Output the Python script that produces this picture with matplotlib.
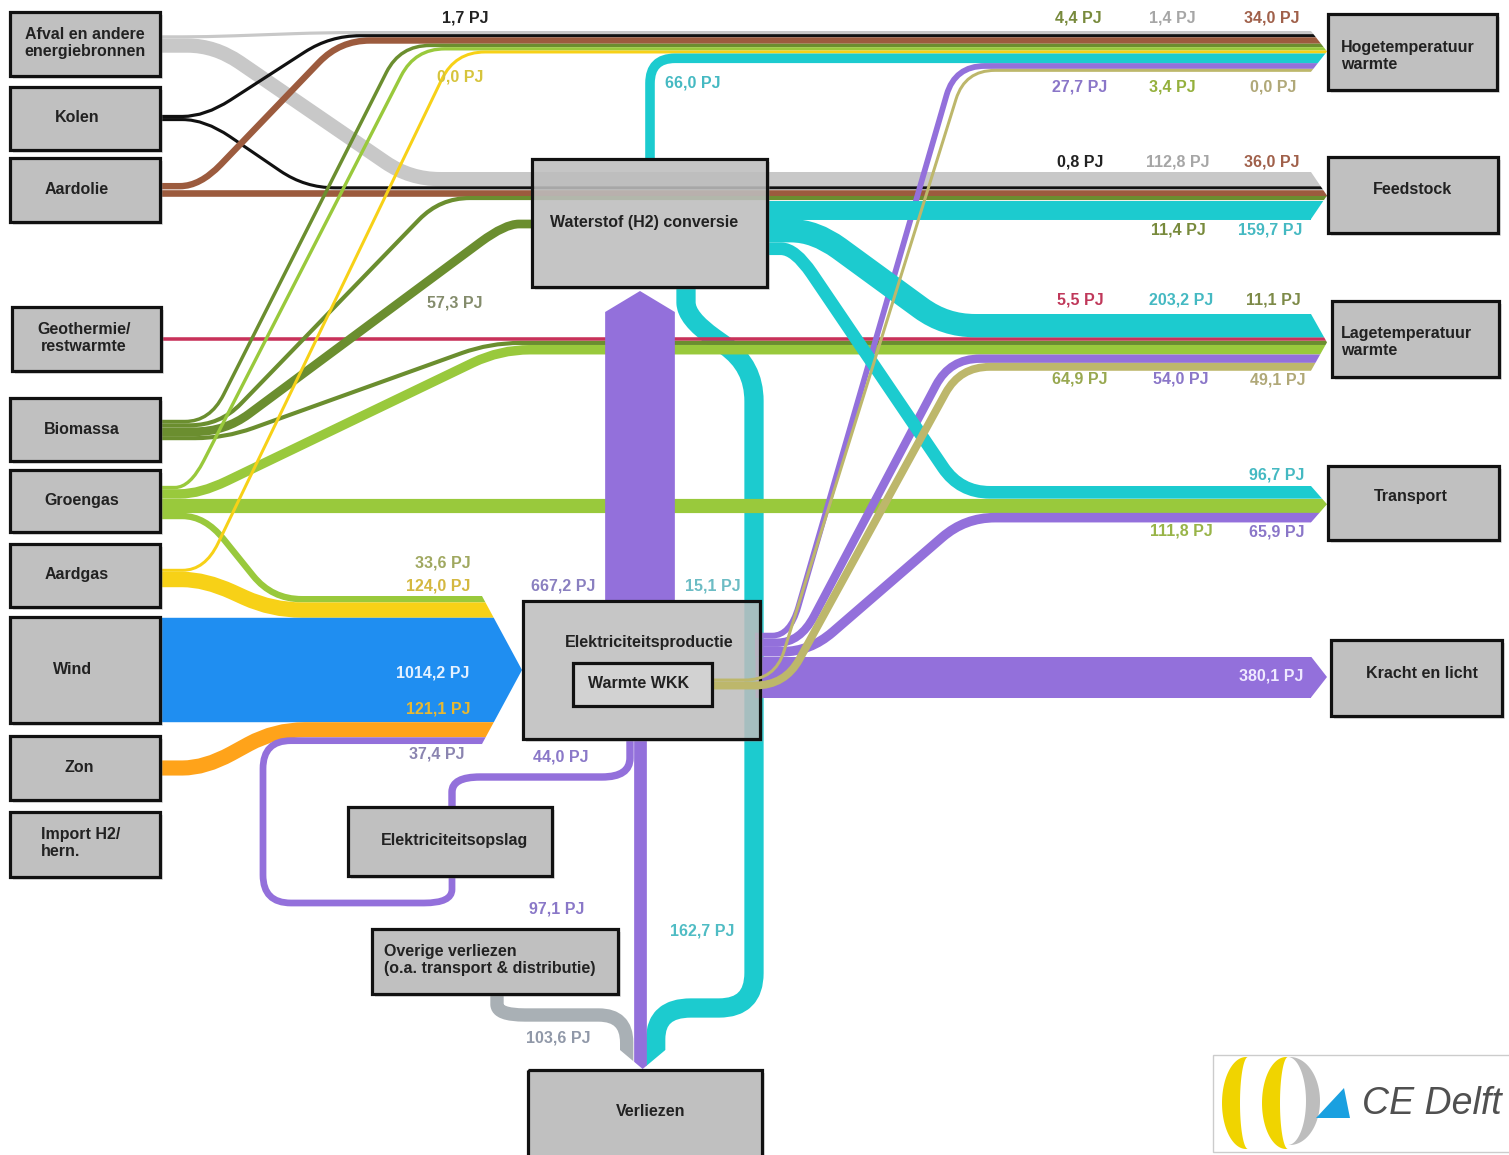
import numpy as np
import matplotlib.pyplot as plt
from matplotlib.path import Path
from matplotlib.patches import PathPatch, Rectangle, Polygon

# ---- data (PJ) ----
hoge_src = ['Afval', 'Kolen', 'Aardolie', 'Biomassa', 'Groengas', 'Aardgas', 'H2', 'Elek', 'WKK']
hoge_pj = [1.4, 1.7, 34.0, 4.4, 3.4, 0.0, 66.0, 27.7, 0.0]
feed_src = ['Afval', 'Kolen', 'Aardolie', 'Biomassa', 'H2']
feed_pj = [112.8, 0.8, 36.0, 11.4, 159.7]
lage_src = ['H2', 'Geothermie', 'Biomassa', 'Groengas', 'Elek', 'WKK']
lage_pj = [203.2, 5.5, 11.1, 64.9, 54.0, 49.1]
trans_src = ['H2', 'Groengas', 'Elek']
trans_pj = [96.7, 111.8, 65.9]
elek_src = ['Groengas', 'Aardgas', 'Wind', 'Zon', 'Opslag']
elek_pj = [33.6, 124.0, 1014.2, 121.1, 37.4]
verlies_src = ['Overige', 'Elek', 'H2']
verlies_pj = [103.6, 97.1, 162.7]
bio_h2_pj = 57.3
elek_h2_pj = 667.2
h2_elek_pj = 15.1
kracht_pj = 380.1
opslag_pj = 44.0

col = {'Afval': '#c8c8c8', 'Kolen': '#111111', 'Aardolie': '#9c5b3e',
       'Geothermie': '#c8325a', 'Biomassa': '#6b8e2f', 'Groengas': '#99c93c',
       'Aardgas': '#f7d117', 'Wind': '#1f8ef1', 'Zon': '#ffa31a',
       'Elek': '#9370db', 'WKK': '#bdb76b', 'H2': '#1ccbcf',
       'Overige': '#a9b0b5', 'Opslag': '#9370db'}

plt.rcParams['font.family'] = ['Liberation Sans', 'DejaVu Sans']

W, H, DPI = 1509, 1155, 100
fig = plt.figure(figsize=(W / DPI, H / DPI), dpi=DPI)
ax = fig.add_axes([0, 0, 1, 1])
ax.set_xlim(0, W)
ax.set_ylim(H, 0)
ax.axis('off')
PX = 72.0 / DPI


def wid(v):
    return 3 + 0.1 * v


def stack(top, vals):
    ws = [wid(v) for v in vals]
    cs = list(top + np.cumsum(ws) - np.array(ws) / 2)
    return cs, top + sum(ws)


def rounded(pts, r):
    verts, codes = [pts[0]], [Path.MOVETO]
    for i in range(1, len(pts) - 1):
        p = np.array(pts[i], float)
        da = np.array(pts[i - 1], float) - p
        db = np.array(pts[i + 1], float) - p
        la, lb = np.hypot(*da), np.hypot(*db)
        p1 = p + da / la * min(r, la / 2)
        p2 = p + db / lb * min(r, lb / 2)
        verts += [tuple(p1), tuple(p), tuple(p2)]
        codes += [Path.LINETO, Path.CURVE3, Path.CURVE3]
    verts.append(pts[-1])
    codes.append(Path.LINETO)
    return Path(verts, codes)


def ribbon(pts, v, color, r=30, clip=None, z=2):
    p = PathPatch(rounded(pts, r), fc='none', ec=color, lw=wid(v) * PX,
                  capstyle='butt', joinstyle='round', zorder=z)
    ax.add_patch(p)
    if clip is not None:
        p.set_clip_path(clip)


# destination stacks
XX = 1332
hc, hb = stack(31, hoge_pj)
fc_, fb = stack(172, feed_pj)
lc, lb = stack(314, lage_pj)
tc, tb = stack(486, trans_pj)
kw = wid(kracht_pj)
ky = 677
ec, eb = stack(596, elek_pj)
vc, vb = stack(620, verlies_pj)

XE, XT = 1311, 1327
rv = [(-10, -10), (XE, -10)]
for top, bot in [(31, hb), (172, fb), (314, lb), (486, tb), (ky - kw / 2, ky + kw / 2)]:
    rv += [(XE, top), (XT, (top + bot) / 2), (XE, bot)]
rv += [(XE, H + 10), (-10, H + 10)]
rclip = Polygon(rv, closed=True, transform=ax.transData)
eclip = Polygon([(-10, -10), (482, -10), (482, 596), (522, (596 + eb) / 2), (482, eb),
                 (482, H + 10), (-10, H + 10)], closed=True, transform=ax.transData)
vclip = Polygon([(-10, -10), (W + 10, -10), (W + 10, 1050), (vb, 1050),
                 ((620 + vb) / 2, 1069), (620, 1050), (-10, 1050)], closed=True,
                transform=ax.transData)


def src(center, vals):
    cs, _ = stack(center - sum(wid(v) for v in vals) / 2, vals)
    return cs


# H2 -> verliezen (under everything)
ribbon([(686, 287), (686, 318), (754, 366), (754, 1008), (vc[2], 1008), (vc[2], 1070)],
       verlies_pj[2], col['H2'], r=35, clip=vclip, z=1)

# Afval
s = src(44, [hoge_pj[0], feed_pj[0]])
ribbon([(160, s[0]), (205, s[0]), (325, hc[0]), (XX, hc[0])], hoge_pj[0], col['Afval'], clip=rclip)
ribbon([(160, s[1]), (215, s[1]), (410, fc_[0]), (XX, fc_[0])], feed_pj[0], col['Afval'], clip=rclip)
# Kolen
s = src(118, [hoge_pj[1], feed_pj[1]])
ribbon([(160, s[0]), (205, s[0]), (330, hc[1]), (XX, hc[1])], hoge_pj[1], col['Kolen'], clip=rclip)
ribbon([(160, s[1]), (205, s[1]), (305, fc_[1]), (XX, fc_[1])], feed_pj[1], col['Kolen'], clip=rclip)
# Aardolie
wa = wid(hoge_pj[2])
ya = fc_[2] - wid(feed_pj[2]) / 2 - wa / 2
ribbon([(160, ya), (200, ya), (340, hc[2]), (XX, hc[2])], hoge_pj[2], col['Aardolie'], clip=rclip)
ribbon([(160, fc_[2]), (XX, fc_[2])], feed_pj[2], col['Aardolie'], clip=rclip)
# Geothermie
ribbon([(161, lc[1]), (XX, lc[1])], lage_pj[1], col['Geothermie'], clip=rclip)
# Biomassa
s = src(430, [hoge_pj[3], feed_pj[3], bio_h2_pj, lage_pj[2]])
ribbon([(160, s[0]), (210, s[0]), (400, hc[3]), (XX, hc[3])], hoge_pj[3], col['Biomassa'], clip=rclip)
ribbon([(160, s[1]), (220, s[1]), (440, fc_[3]), (XX, fc_[3])], feed_pj[3], col['Biomassa'], clip=rclip)
ribbon([(160, s[2]), (225, s[2]), (505, 224), (533, 224)], bio_h2_pj, col['Biomassa'])
ribbon([(160, s[3]), (225, s[3]), (490, lc[2]), (XX, lc[2])], lage_pj[2], col['Biomassa'], clip=rclip)
# Groengas
gw = [wid(v) for v in [hoge_pj[4], lage_pj[3], trans_pj[1], elek_pj[0]]]
g0 = tc[1] - gw[2] / 2 - gw[1] - gw[0]
gs = list(g0 + np.cumsum(gw) - np.array(gw) / 2)
ribbon([(160, gs[0]), (190, gs[0]), (415, hc[4]), (XX, hc[4])], hoge_pj[4], col['Groengas'], clip=rclip)
ribbon([(160, gs[1]), (200, gs[1]), (500, lc[3]), (XX, lc[3])], lage_pj[3], col['Groengas'], clip=rclip)
ribbon([(160, tc[1]), (XX, tc[1])], trans_pj[1], col['Groengas'], clip=rclip)
ribbon([(160, gs[3]), (205, gs[3]), (272, ec[0]), (530, ec[0])], elek_pj[0], col['Groengas'], clip=eclip)
# Aardgas
s = src(578, [hoge_pj[5], elek_pj[1]])
ribbon([(160, s[0]), (205, s[0]), (455, hc[5]), (XX, hc[5])], hoge_pj[5], col['Aardgas'], clip=rclip)
ribbon([(160, s[1]), (205, s[1]), (272, ec[1]), (530, ec[1])], elek_pj[1], col['Aardgas'], clip=eclip)
# Wind, Zon, opslag loop
ribbon([(160, ec[2]), (530, ec[2])], elek_pj[2], col['Wind'], clip=eclip)
ribbon([(160, 768), (205, 768), (275, ec[3]), (530, ec[3])], elek_pj[3], col['Zon'], clip=eclip)
ribbon([(452, 876), (452, 903), (263, 903), (263, ec[4]), (530, ec[4])], elek_pj[4],
       col['Opslag'], r=28, clip=eclip)

# Elek -> H2 big arrow
pw = wid(elek_h2_pj)
ax.add_patch(Polygon([(640 - pw / 2, 601), (640 - pw / 2, 312), (640, 291),
                      (640 + pw / 2, 312), (640 + pw / 2, 601)], closed=True,
                     fc=col['Elek'], ec='none', zorder=3))
# Elek outputs
ribbon([(755, ky), (XX, ky)], kracht_pj, col['Elek'], clip=rclip, z=3)
eo = [wid(v) for v in [hoge_pj[7], lage_pj[4], trans_pj[2]]]
e0 = ky - kw / 2 - sum(eo)
es = list(e0 + np.cumsum(eo) - np.array(eo) / 2)
ribbon([(755, es[0]), (790, es[0]), (955, hc[7]), (XX, hc[7])], hoge_pj[7], col['Elek'], clip=rclip, z=3)
ribbon([(755, es[1]), (800, es[1]), (950, lc[4]), (XX, lc[4])], lage_pj[4], col['Elek'], clip=rclip, z=3)
ribbon([(755, es[2]), (810, es[2]), (965, tc[2]), (XX, tc[2])], trans_pj[2], col['Elek'], clip=rclip, z=3)
ribbon([(630, 739), (630, 777), (452, 777), (452, 807)], opslag_pj, col['Elek'], r=28, z=3)
ribbon([(vc[1], 739), (vc[1], 1070)], verlies_pj[1], col['Elek'], clip=vclip, z=3)
ribbon([(497, 994), (497, 1015), (vc[0], 1015), (vc[0], 1070)], verlies_pj[0], col['Overige'],
       r=28, clip=vclip, z=2)
# WKK heat
ws_ = src(684, [hoge_pj[8], lage_pj[5]])
ribbon([(712, ws_[0]), (775, ws_[0]), (965, hc[8]), (XX, hc[8])], hoge_pj[8], col['WKK'], clip=rclip, z=6)
ribbon([(712, ws_[1]), (785, ws_[1]), (960, lc[5]), (XX, lc[5])], lage_pj[5], col['WKK'], clip=rclip, z=6)
# H2 outputs
ribbon([(650, 160), (650, hc[6]), (XX, hc[6])], hoge_pj[6], col['H2'], r=25, clip=rclip, z=3)
ribbon([(767, fc_[4]), (XX, fc_[4])], feed_pj[4], col['H2'], clip=rclip, z=3)
hl = fc_[4] + wid(feed_pj[4]) / 2 + wid(lage_pj[0]) / 2
ribbon([(767, hl), (815, hl), (945, lc[0]), (XX, lc[0])], lage_pj[0], col['H2'], clip=rclip, z=3)
ht = hl + wid(lage_pj[0]) / 2 + wid(trans_pj[0]) / 2
ribbon([(767, ht), (795, ht), (960, tc[0]), (XX, tc[0])], trans_pj[0], col['H2'], clip=rclip, z=3)

# ---- boxes: text, x0, y0, x1, y1, text x, text y, align, alpha ----
boxes = [
    ("Afval en andere\nenergiebronnen", 10, 12, 160, 76, 85, 43, 'center', 1),
    ("Kolen", 10, 87, 160, 150, 77, 118, 'center', 1),
    ("Aardolie", 10, 158, 160, 222, 77, 190, 'center', 1),
    ("Geothermie/\nrestwarmte", 12, 307, 161, 371, 84, 338, 'center', 1),
    ("Biomassa", 10, 398, 160, 461, 82, 429, 'center', 1),
    ("Groengas", 10, 470, 160, 532, 82, 501, 'center', 1),
    ("Aardgas", 10, 544, 160, 607, 77, 575, 'center', 1),
    ("Wind", 10, 617, 160, 723, 73, 670, 'center', 1),
    ("Zon", 10, 736, 160, 800, 79, 768, 'center', 1),
    ("Import H2/\nhern.", 10, 812, 160, 877, 41, 843, 'left', 1),
    ("Waterstof (H2) conversie", 532, 159, 767, 287, 644, 223, 'center', 0.82),
    ("Elektriciteitsproductie", 523, 601, 760, 739, 649, 642, 'center', 0.8),
    ("Elektriciteitsopslag", 348, 807, 552, 876, 455, 841, 'center', 1),
    ("Overige verliezen\n(o.a. transport & distributie)", 372, 929, 618, 994, 384, 960, 'left', 1),
    ("Verliezen", 528, 1070, 762, 1175, 651, 1112, 'center', 1),
    ("Hogetemperatuur\nwarmte", 1328, 14, 1497, 90, 1341, 56, 'left', 1),
    ("Feedstock", 1328, 157, 1498, 233, 1413, 189, 'center', 1),
    ("Lagetemperatuur\nwarmte", 1332, 301, 1499, 377, 1341, 342, 'left', 1),
    ("Transport", 1328, 466, 1499, 540, 1411, 497, 'center', 1),
    ("Kracht en licht", 1331, 640, 1502, 716, 1422, 673, 'center', 1),
]
for txt, x0, y0, x1, y1, tx, ty, al, a in boxes:
    ax.add_patch(Rectangle((x0 + 3, y0 + 3), x1 - x0, y1 - y0, fc='#999999', ec='none',
                           alpha=0.3, zorder=4.8))
    ax.add_patch(Rectangle((x0, y0), x1 - x0, y1 - y0, fc='#c0c0c0', ec='none',
                           alpha=a, zorder=5))
    ax.add_patch(Rectangle((x0, y0), x1 - x0, y1 - y0, fc='none', ec='#111111',
                           lw=2.3, zorder=5.1))
    ax.text(tx, ty, txt, ha=al, va='center', fontsize=11.5, fontweight='bold',
            color='#222222', zorder=8, linespacing=1.15, multialignment=al)

ax.add_patch(Rectangle((573, 663), 139, 43, fc='#d2d2d2', ec='#111111', lw=2.3, zorder=7))
ax.text(639, 684, "Warmte WKK", ha='center', va='center', fontsize=11.5,
        fontweight='bold', color='#222222', zorder=8)

# ---- value labels ----
labels = [
    (hoge_pj[1], '#222222', 465, 18), (hoge_pj[5], '#d6c43c', 460, 77),
    (hoge_pj[6], '#45b9c2', 693, 83), (hoge_pj[3], '#788a3c', 1078, 18),
    (hoge_pj[0], '#a6a6a6', 1172, 18), (hoge_pj[2], '#a0604a', 1272, 18),
    (hoge_pj[7], '#8a76c8', 1080, 87), (hoge_pj[4], '#94b03c', 1172, 87),
    (hoge_pj[8], '#b0a878', 1273, 87),
    (feed_pj[1], '#222222', 1080, 162), (feed_pj[0], '#a6a6a6', 1178, 162),
    (feed_pj[2], '#a0604a', 1272, 162), (feed_pj[3], '#788a3c', 1178, 230),
    (feed_pj[4], '#45b9c2', 1270, 230),
    (bio_h2_pj, '#848c6c', 455, 303),
    (lage_pj[1], '#c0385a', 1080, 300), (lage_pj[0], '#45b9c2', 1181, 300),
    (lage_pj[2], '#7d8a48', 1273, 300), (lage_pj[3], '#98a850', 1080, 379),
    (lage_pj[4], '#8a76c8', 1181, 379), (lage_pj[5], '#b0a878', 1278, 380),
    (trans_pj[0], '#45b9c2', 1277, 475), (trans_pj[1], '#98b448', 1181, 531),
    (trans_pj[2], '#8a76c8', 1277, 532),
    (elek_pj[0], '#a0a860', 443, 563), (elek_pj[1], '#d4b840', 438, 586),
    (elek_h2_pj, '#8a80c0', 563, 586), (h2_elek_pj, '#6cbcc4', 713, 586),
    (elek_pj[2], '#e4f1ff', 433, 673), (elek_pj[3], '#e8b830', 438, 709),
    (elek_pj[4], '#8a84b0', 437, 754), (opslag_pj, '#8a78c8', 561, 757),
    (kracht_pj, '#efe9ff', 1271, 676),
    (verlies_pj[1], '#8a78c8', 557, 909), (verlies_pj[2], '#4fbcc4', 702, 931),
    (verlies_pj[0], '#9098a8', 558, 1038),
]
for v, c, x, y in labels:
    ax.text(x, y, f"{v:.1f}".replace('.', ',') + " PJ", ha='center', va='center',
            fontsize=11.5, fontweight='bold', color=c, zorder=9)


# ---- CE Delft logo ----
def crescent(cx, cy, a, b, a2, d, side, color):
    t = np.linspace(-np.pi / 2, np.pi / 2, 60)
    outer = np.c_[cx + side * a * np.cos(t), cy + b * np.sin(t)]
    inner = np.c_[cx - side * d + side * a2 * np.cos(t[::-1]), cy + b * np.sin(t[::-1])]
    ax.add_patch(Polygon(np.r_[outer, inner], closed=True, fc=color, ec='none', zorder=6))


ax.add_patch(Rectangle((1213, 1055), 300, 97, fc='white', ec='#cccccc', lw=1, zorder=5))
crescent(1246, 1103, 24, 46, 8, 2, -1, '#f0d400')
crescent(1286, 1103, 24, 46, 8, 2, -1, '#f0d400')
crescent(1290, 1101, 30, 44, 18, 2, 1, '#bdbdbd')
ax.add_patch(Polygon([(1316, 1118), (1350, 1118), (1344, 1088)], closed=True,
                     fc='#1aa0e0', ec='none', zorder=7))
ax.text(1362, 1104, "CE Delft", ha='left', va='center', fontsize=27, style='italic',
        color='#505050', zorder=7)

fig.savefig('out.png', dpi=DPI, facecolor='white')
